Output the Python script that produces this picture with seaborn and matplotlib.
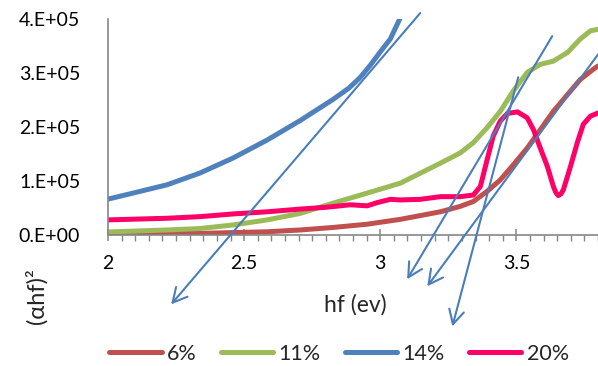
import matplotlib
matplotlib.use("Agg")
import matplotlib.pyplot as plt
from matplotlib.ticker import FixedLocator, MultipleLocator
import pandas as pd
import seaborn as sns

# Tauc plot: (alpha*h*f)^2 against photon energy for four doping levels
samples = ["6%", "11%", "14%", "20%"]
palette = ["#C0504D", "#9BBB59", "#4F81BD", "#FF0066"]

hf_6 = [2.00, 2.338, 2.585, 2.706, 2.827, 2.952, 3.074, 3.221, 3.294, 3.342,
        3.393, 3.441, 3.489, 3.540, 3.588, 3.636, 3.688, 3.735, 3.783, 3.80]
ahf2_6 = [2000, 3000, 6000, 9300, 14000, 20000, 29000, 43000, 53000, 62000,
          81000, 102000, 130000, 161000, 195000, 229000, 260000, 288000,
          307000, 313000]

hf_11 = [2.00, 2.217, 2.338, 2.460, 2.585, 2.706, 2.827, 2.952, 3.074, 3.221,
         3.294, 3.342, 3.393, 3.441, 3.489, 3.540, 3.588, 3.636, 3.688, 3.735,
         3.772, 3.80]
ahf2_11 = [5600, 9300, 12000, 18600, 28000, 40000, 59000, 77600, 96000,
           133000, 152000, 171000, 199000, 229000, 267000, 301000, 316000,
           322000, 338000, 363000, 378000, 381000]

hf_14 = [2.00, 2.092, 2.217, 2.338, 2.460, 2.585, 2.706, 2.827, 2.885, 2.926,
         2.963, 3.000, 3.037, 3.066, 3.09]
ahf2_14 = [66400, 77600, 93000, 114800, 142700, 176000, 212000, 251200,
           272000, 291500, 314000, 339000, 363000, 394000, 420000]

hf_20 = [2.00, 2.217, 2.338, 2.460, 2.585, 2.706, 2.805, 2.890, 2.952, 2.989,
         3.037, 3.074, 3.147, 3.221, 3.294, 3.342, 3.368, 3.393, 3.415, 3.441,
         3.467, 3.504, 3.540, 3.563, 3.588, 3.614, 3.636, 3.645, 3.654, 3.664,
         3.673, 3.699, 3.724, 3.746, 3.772, 3.80]
ahf2_20 = [28000, 31000, 34000, 39000, 43000, 48000, 51500, 56000, 54000,
           60000, 66000, 65000, 66000, 71000, 71000, 74000, 90000, 140000,
           183000, 211000, 225000, 228000, 217000, 195000, 161000, 127000,
           90000, 79000, 73000, 76000, 84000, 127000, 171000, 205000, 220000,
           226000]

# tangent lines used to extrapolate the band gap: (hf start, value start, hf end, value end)
tangents = [
    (3.147, 411000, 2.232, -128400),
    (3.632, 368400, 3.099, -81900),
    (3.801, 334900, 3.173, -94900),
    (3.507, 292100, 3.265, -169300),
]

x_ticks = [2.0, 2.5, 3.0, 3.5]
x_ticklabels = ["2", "2.5", "3", "3.5"]
y_ticks = [0, 100000, 200000, 300000, 400000]
y_ticklabels = ["0.E+00", "1.E+05", "2.E+05", "3.E+05", "4.E+05"]

frames = []
for name, xs, ys in zip(samples, [hf_6, hf_11, hf_14, hf_20],
                        [ahf2_6, ahf2_11, ahf2_14, ahf2_20]):
    frames.append(pd.DataFrame({"hf": xs, "ahf2": ys, "sample": name}))
df = pd.concat(frames, ignore_index=True)

sns.set_theme(style="white")
plt.rcParams["font.family"] = ["Lato", "DejaVu Sans"]

fig = plt.figure(figsize=(5.98, 3.66), dpi=100)
ax = fig.add_axes([108 / 598, 131 / 366, 490 / 598, 216 / 366])

sns.lineplot(data=df, x="hf", y="ahf2", hue="sample", hue_order=samples,
             palette=palette, estimator=None, sort=False, linewidth=3.6,
             ax=ax, legend=True)
for line in ax.get_lines():
    line.set_solid_capstyle("round")
    line.set_solid_joinstyle("round")

arrow_color = "#4A7EBB"
for x0, y0, x1, y1 in tangents:
    ax.annotate("", xy=(x1, y1), xytext=(x0, y0), xycoords="data",
                annotation_clip=False,
                arrowprops=dict(arrowstyle="->, head_length=0.85, head_width=0.45",
                                color=arrow_color, lw=1.5,
                                shrinkA=0, shrinkB=0),
                zorder=5)

ax.set_xlim(2.0, 3.8)
ax.set_ylim(0, 400000)
ax.xaxis.set_major_locator(FixedLocator(x_ticks))
ax.set_xticklabels(x_ticklabels)
ax.xaxis.set_minor_locator(MultipleLocator(0.05))
ax.yaxis.set_major_locator(FixedLocator(y_ticks))
ax.set_yticklabels(y_ticklabels)

for side in ["top", "right"]:
    ax.spines[side].set_visible(False)
for side in ["left", "bottom"]:
    ax.spines[side].set_color("#868686")
    ax.spines[side].set_linewidth(1.2)

ax.tick_params(axis="x", which="major", direction="inout", length=9, width=1.1,
               color="#868686", pad=10, labelsize=14, labelcolor="black")
ax.tick_params(axis="x", which="minor", direction="out", length=4, width=1.0,
               color="#868686")
ax.tick_params(axis="y", which="both", length=0, pad=20, labelsize=14,
               labelcolor="black")
ax.tick_params(axis="x", which="both", bottom=True)

ax.set_xlabel("")
ax.set_ylabel("")
fig.text(355 / 598, 1 - 305 / 366, "hf (ev)", ha="center", va="center",
         fontsize=16.5)
fig.text(36 / 598, 1 - 296 / 366, "(αhf)²", ha="center", va="center",
         rotation=90, fontsize=17)

handles, labels = ax.get_legend_handles_labels()
ax.get_legend().remove()
leg = fig.legend(handles, labels, loc="center",
                 bbox_to_anchor=(339 / 598, 1 - 354 / 366), ncol=4,
                 frameon=False, fontsize=15.5, handlelength=2.45,
                 handletextpad=0.25, columnspacing=1.1)
for h in leg.get_lines():
    h.set_linewidth(3.6)
    h.set_solid_capstyle("round")

fig.savefig("out.png", dpi=100)
